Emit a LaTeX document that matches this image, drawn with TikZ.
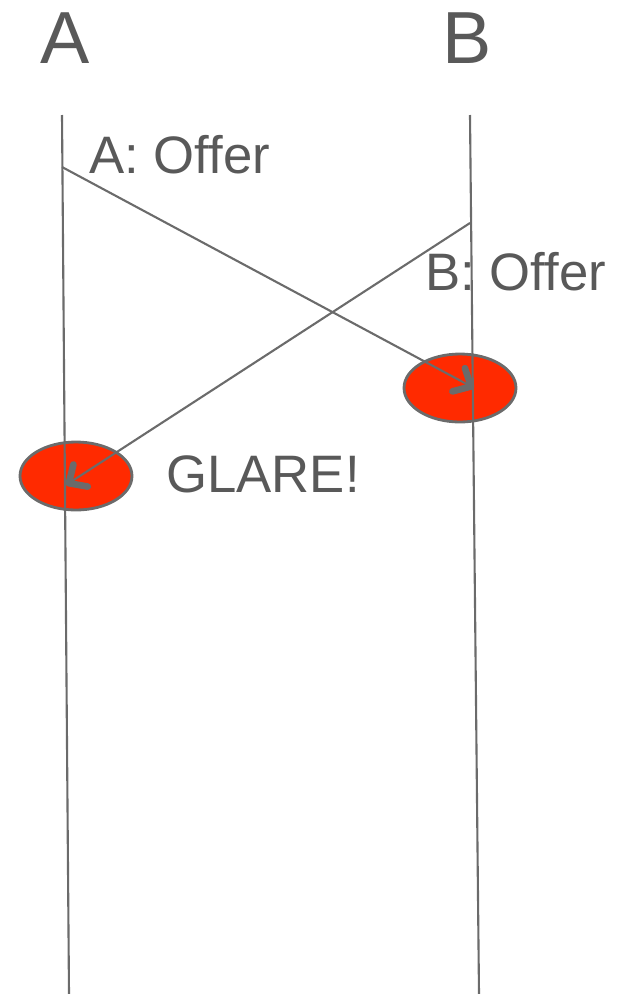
\documentclass[tikz,border=0pt]{standalone}
\usepackage{fontspec}
\setmainfont{Liberation Sans}
\usetikzlibrary{arrows.meta,positioning,shapes.geometric}
\definecolor{Ink}{HTML}{595959}
\definecolor{Wire}{HTML}{6B6B6B}
\definecolor{Glare}{HTML}{FF2A00}

\begin{document}
\begin{tikzpicture}[x=0.02cm,y=-0.02cm,
  party/.style={font=\fontsize{42}{42}\selectfont,text=Ink,inner sep=0pt,anchor=base},
  msglabel/.style={font=\fontsize{30}{30}\selectfont,text=Ink,inner sep=0pt,anchor=base west},
  lifeline/.style={draw=Wire,line width=1.2pt},
  clash/.style={ellipse,draw=Wire,fill=Glare,line width=1.6pt,minimum width=2.24cm,minimum height=1.36cm,inner sep=0pt},
  msg/.style={draw=Wire,line width=1.2pt,-{Straight Barb[length=8pt,width=15pt,line width=2.6pt 1,round]}}
]
\useasboundingbox (0,0) rectangle (619,994);
\node[party] (nameA) at (65,63) {A};
\node[party] (nameB) at (467,63) {B};

\coordinate (topA) at (62,115);
\coordinate (botA) at (69,994);
\coordinate (topB) at (470,115);
\coordinate (botB) at (479,994);

% glare markers sit under the lines
\node[clash] (clashB) at (460,388) {};
\node[clash] (clashA) at (76,476) {};

\draw[lifeline] (topA) -- (botA);
\draw[lifeline] (topB) -- (botB);

\coordinate (sendA) at (62,167);
\coordinate (recvB) at (474,388);
\coordinate (sendB) at (470,223);
\coordinate (recvA) at (66,485);
\draw[msg] (sendA) -- (recvB);
\draw[msg] (sendB) -- (recvA);

\node[msglabel] (offerA) at (89,173) {A: Offer};
\node[msglabel] (offerB) at (425,290) {B: Offer};
\node[msglabel] (glare) at (166,492) {GLARE!};
\end{tikzpicture}
\end{document}
